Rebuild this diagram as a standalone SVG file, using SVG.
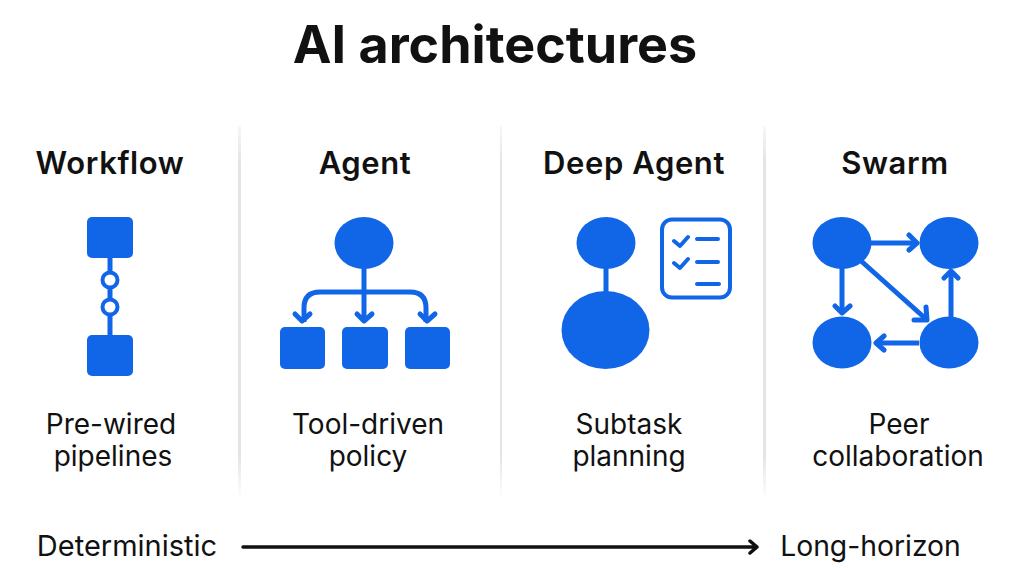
<svg xmlns="http://www.w3.org/2000/svg" width="1011" height="568" viewBox="0 0 1011 568">
<defs>
<linearGradient id="div" x1="0" y1="0" x2="0" y2="1"><stop offset="0" stop-color="#e4e4e4" stop-opacity="0.3"/><stop offset="0.1" stop-color="#e4e4e4"/><stop offset="0.88" stop-color="#e4e4e4"/><stop offset="1" stop-color="#e4e4e4" stop-opacity="0"/></linearGradient>
</defs>
<style>
text{font-family:"Inter","Liberation Sans",sans-serif;fill:#111;text-anchor:middle}
.t{font-size:52px;font-weight:700}
.h{font-size:31px;font-weight:600;letter-spacing:.6px}
.d{font-size:28px;font-weight:400}
.f{fill:#1166e8}
.l{fill:none;stroke:#1166e8;stroke-width:5;stroke-linejoin:round;stroke-linecap:round}
.s{stroke-linecap:butt}
.k{fill:none;stroke:#111;stroke-width:3.5;stroke-linecap:round;stroke-linejoin:round}
.dv{fill:url(#div)}
</style>
<rect width="1011" height="568" fill="#fff"/>
<text class="t" x="495" y="63">AI architectures</text>
<rect class="dv" x="238" y="126" width="3" height="374"/>
<rect class="dv" x="500" y="126" width="2" height="374"/>
<rect class="dv" x="763" y="126" width="3" height="374"/>
<g id="connectors">
<path class="l s" d="M110 256V340"/>
<path class="l s" d="M364 268V322M304 322V308Q304 292 320 292H410Q426 292 426 308V322"/>
<path class="l" d="M295 314L302 321L310 314M357 314L364 321L372 314M420 314L427 321L435 314"/>
<path class="l s" d="M606 268V295"/>
<path class="l s" d="M870 243H916M842 268V312M860 260L926 319M951 318V274M919 343H878"/>
<path class="l" d="M909 235L917 243L909 250M835 306L842 313L850 306M926 307L927 320L914 320M944 278L951 271L958 278M884 336L876 343L884 350"/>
<path class="k" d="M243 547H756M750 541L757 547L750 553"/>
</g>
<g id="workflow">
<text class="h" x="110" y="174">Workflow</text>
<rect class="f" x="87" y="217" width="46" height="41" rx="5"/>
<rect class="f" x="87" y="335" width="46" height="41" rx="5"/>
<circle cx="110" cy="280" r="7.5" fill="#fff" stroke="#1166e8" stroke-width="4"/>
<circle cx="110" cy="307" r="7.5" fill="#fff" stroke="#1166e8" stroke-width="4"/>
<text class="d" x="111" y="434">Pre-wired</text>
<text class="d" x="113" y="466">pipelines</text>
</g>
<g id="agent">
<text class="h" x="365" y="174">Agent</text>
<ellipse class="f" cx="364" cy="243" rx="29.500" ry="26"/>
<rect class="f" x="280" y="327" width="45" height="42" rx="5"/>
<rect class="f" x="342" y="327" width="46" height="42" rx="5"/>
<rect class="f" x="405" y="327" width="45" height="42" rx="5"/>
<text class="d" x="368" y="434">Tool-driven</text>
<text class="d" x="368" y="466">policy</text>
</g>
<g id="deep-agent">
<text class="h" x="634" y="174">Deep Agent</text>
<ellipse class="f" cx="606" cy="243" rx="29.500" ry="26"/>
<ellipse class="f" cx="605.500" cy="330" rx="44" ry="39"/>
<rect x="662" y="219.500" width="68" height="78" rx="10" fill="none" stroke="#1166e8" stroke-width="4"/>
<path class="l" d="M674 241L680 246L688 237M674 263L680 268L688 259" style="stroke-width:4"/>
<path class="l" d="M697 239H718M697 262H718M697 284H719" style="stroke-width:4"/>
<text class="d" x="629" y="434">Subtask</text>
<text class="d" x="629" y="466">planning</text>
</g>
<g id="swarm">
<text class="h" x="895" y="174">Swarm</text>
<ellipse class="f" cx="842" cy="243" rx="29.500" ry="26"/>
<ellipse class="f" cx="949" cy="243" rx="29.500" ry="26"/>
<ellipse class="f" cx="842" cy="342.500" rx="29.500" ry="26"/>
<ellipse class="f" cx="949" cy="342.500" rx="29.500" ry="26"/>
<text class="d" x="899" y="434">Peer</text>
<text class="d" x="898" y="466">collaboration</text>
</g>
<g id="axis">
<text class="d" x="127" y="556" style="font-size:29px">Deterministic</text>
<text class="d" x="870.500" y="556" style="font-size:28.300px">Long-horizon</text>
</g>
</svg>
